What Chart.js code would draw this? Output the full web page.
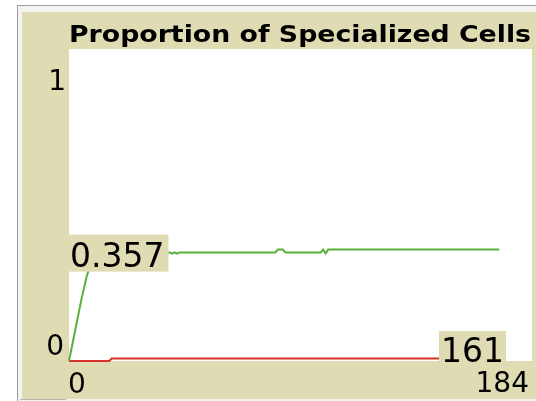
<!DOCTYPE html>
<html>
<head>
<meta charset="utf-8">
<script src="https://cdn.jsdelivr.net/npm/chart.js@4"></script>
<style>
  html, body { margin: 0; padding: 0; background: #fff; }
  canvas { display: block; }
</style>
</head>
<body>
<canvas id="plot" width="536" height="401"></canvas>
<script>
// --- data ---
const chartTitle = 'Proportion of Specialized Cells';
const xTickValues = [0, 184];
const yTickValues = [0, 1];

// green pen (tick, proportion) - only the corners of the trace
const greenTicks  = [0, 1, 2, 3, 4, 5, 6, 7, 8, 9, 10, 11, 12, 40, 41, 42, 43, 44, 82, 83, 85, 86, 100, 101, 102, 103, 171];
const greenValues = [0, 0.04, 0.08, 0.12, 0.16, 0.2, 0.235, 0.27, 0.295, 0.315, 0.33, 0.34, 0.348, 0.348, 0.344, 0.348, 0.344, 0.348, 0.348, 0.357, 0.357, 0.348, 0.348, 0.357, 0.345, 0.357, 0.357];

// red pen
const redTicks  = [0, 16, 17, 171];
const redValues = [0, 0, 0.008, 0.008];

const greenLabel = '0.357';
const redLabel = '161';

const BEIGE = '#dfdcb4';
const FONT = '"DejaVu Sans", sans-serif';

function toPoints(xs, ys) {
    return xs.map((x, i) => ({ x: x, y: ys[i] }));
}

// panel frame, beige background and white plot area
const framePlugin = {
    id: 'frame',
    beforeDraw(chart) {
        const ctx = chart.ctx;
        const a = chart.chartArea;
        ctx.save();
        ctx.fillStyle = '#fff';
        ctx.fillRect(0, 0, chart.width, chart.height);
        ctx.fillStyle = '#f3f3f0';
        ctx.fillRect(17, 5, chart.width - 17, chart.height - 5);
        ctx.fillStyle = BEIGE;
        ctx.fillRect(22, 12, chart.width - 22, 387);
        ctx.fillStyle = '#9c9c9c';
        ctx.fillRect(17, 5, 1, chart.height - 5);
        ctx.fillRect(17, 5, chart.width - 17, 1);
        ctx.fillStyle = '#b8b8b0';
        ctx.fillRect(20, 399, 46, 1);
        ctx.fillStyle = '#fff';
        ctx.fillRect(a.left, a.top, a.right - a.left, a.bottom - a.top);
        ctx.restore();
    },
    afterDatasetsDraw(chart) {
        const ctx = chart.ctx;
        const a = chart.chartArea;
        const xs = chart.scales.x;
        const ys = chart.scales.y;
        ctx.save();

        // title - the original face is wider than DejaVu, so stretch it to the same width
        ctx.fillStyle = '#000';
        ctx.font = 'bold 23px ' + FONT;
        ctx.textAlign = 'left';
        ctx.textBaseline = 'alphabetic';
        const tw = ctx.measureText(chartTitle).width;
        ctx.save();
        ctx.translate(a.left, 42);
        ctx.scale(462 / tw, 1);
        ctx.fillText(chartTitle, 0, 0);
        ctx.restore();

        // y tick labels (NetLogo style: max just under the top, min just above the bottom)
        ctx.font = '28px ' + FONT;
        ctx.textAlign = 'right';
        ctx.fillText(String(yTickValues[1]), a.left - 3, ys.getPixelForValue(yTickValues[1]) + 41);
        ctx.fillText(String(yTickValues[0]), a.left - 5, ys.getPixelForValue(yTickValues[0]) - 6);

        // x tick labels
        ctx.textAlign = 'left';
        ctx.fillText(String(xTickValues[0]), xs.getPixelForValue(xTickValues[0]) - 1, a.bottom + 32);
        ctx.textAlign = 'right';
        ctx.fillText(String(xTickValues[1]), xs.getPixelForValue(xTickValues[1]) - 3, a.bottom + 31);

        // value boxes
        ctx.font = '33px ' + FONT;
        ctx.textAlign = 'left';
        let w = ctx.measureText(greenLabel).width;
        const gy = ys.getPixelForValue(0.357);
        ctx.fillStyle = BEIGE;
        ctx.fillRect(a.left, gy - 15, w + 5, 37);
        ctx.fillStyle = '#000';
        ctx.fillText(greenLabel, a.left + 1, gy + 17);

        w = ctx.measureText(redLabel).width;
        ctx.fillStyle = BEIGE;
        ctx.fillRect(439, a.bottom - 30, w + 4, 32);
        ctx.fillStyle = '#000';
        ctx.fillText(redLabel, 441, a.bottom + 1);

        ctx.restore();
    }
};

new Chart(document.getElementById('plot'), {
    type: 'line',
    data: {
        datasets: [
            { data: toPoints(greenTicks, greenValues), borderColor: '#59b03c', borderWidth: 2, pointRadius: 0, tension: 0, clip: 4 },
            { data: toPoints(redTicks, redValues), borderColor: '#d73229', borderWidth: 2, pointRadius: 0, tension: 0, clip: 4 }
        ]
    },
    options: {
        responsive: false,
        animation: false,
        devicePixelRatio: 1,
        layout: { padding: { left: 69, top: 49, right: 4, bottom: 40 } },
        scales: {
            x: { type: 'linear', min: 0, max: 184, display: false },
            y: { min: 0, max: 1, display: false }
        },
        plugins: { legend: { display: false }, tooltip: { enabled: false } }
    },
    plugins: [framePlugin]
});
</script>
</body>
</html>
